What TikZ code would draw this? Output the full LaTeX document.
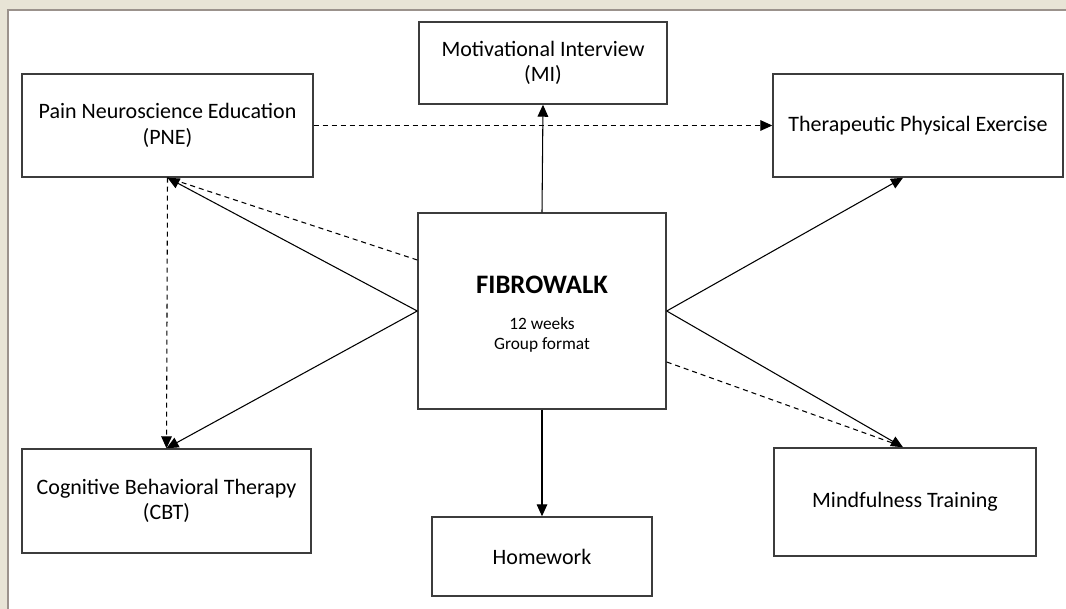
\documentclass[tikz,border=0pt]{standalone}
\usepackage{fontspec}
\setmainfont{Carlito}
\usepackage{tikz}
\usepackage{xcolor}
\usetikzlibrary{arrows.meta}

\definecolor{framebg}{RGB}{232,228,214}
\definecolor{frameline}{RGB}{155,146,140}
\definecolor{boxline}{RGB}{60,60,60}

\begin{document}
\begin{tikzpicture}[x=0.75pt, y=-0.75pt,
        blk/.style={draw=boxline, line width=1.1pt, fill=white, align=center,
            inner sep=2pt, font=\fontsize{16.5}{19}\selectfont},
        conn/.style={line width=0.8pt, -{Triangle[length=9pt, width=8pt]}},
        dconn/.style={conn, dash pattern=on 3.75pt off 3pt},
        dline/.style={line width=0.8pt, dash pattern=on 3.75pt off 3pt}]
            %% 定义方框命令
            \newcommand{\module}[6]{
                \node[blk, minimum width=#4*0.75pt, minimum height=#5*0.75pt] (#1) at (#2, #3) {#6};
            }
            %% 一些宏定义
            \def\sh{11.25pt}
            \def\off{38.25pt}
            %% 背景与边框
            \useasboundingbox (0, 0) rectangle (1066, 609);
            \fill[framebg] (0, 0) rectangle (1066, 609);
            \fill[white] (9, 11) rectangle (1066, 609);
            \draw[frameline, line width=1.5pt] (8, 609)--(8, 10)--(1066, 10);

            %% 绘制各个方框
            \module{pne}{167.5}{125.5}{291}{103}{Pain Neuroscience Education\\(PNE)};
            \module{mi}{543}{63}{248}{82}{Motivational Interview\\(MI)};
            \module{tpe}{918}{125.5}{290}{103}{Therapeutic Physical Exercise};
            \module{fib}{542}{311}{248}{196}{};
            \module{cbt}{166.5}{501}{289}{104}{Cognitive Behavioral Therapy\\(CBT)};
            \module{hw}{542}{556.5}{220}{79}{Homework};
            \module{mf}{905}{502}{262}{108}{Mindfulness Training};

            %% 方框内的文字
            \node[font=\fontsize{20}{24}\selectfont\bfseries] (fibtitle) at (542, 285) {FIBROWALK};
            \node[align=center, font=\fontsize{13}{14.5}\selectfont] (fibinfo) at (542, 335) {12 weeks\\Group format};

            %% 实线箭头
            \draw[conn] (fib.north)--(mi.south);
            \draw[conn] (fib.south)--(hw.north);
            \draw[conn] (fib.west)--(pne.south);
            \draw[conn] (fib.west)--(cbt.north);
            \draw[conn] (fib.east)--([xshift=-\sh]tpe.south);
            \draw[conn] (fib.east)--([xshift=-1.5pt]mf.north);

            %% 虚线箭头
            \draw[dline] ([yshift=\off]fib.west)--(pne.south);
            \draw[dconn] (pne.south)--(cbt.north);
            \draw[dconn] (pne.east)--(tpe.west);
            \draw[dline] ([yshift=-\off]fib.east)--([xshift=-6pt, yshift=2pt]mf.north);
        \end{tikzpicture}
\end{document}
